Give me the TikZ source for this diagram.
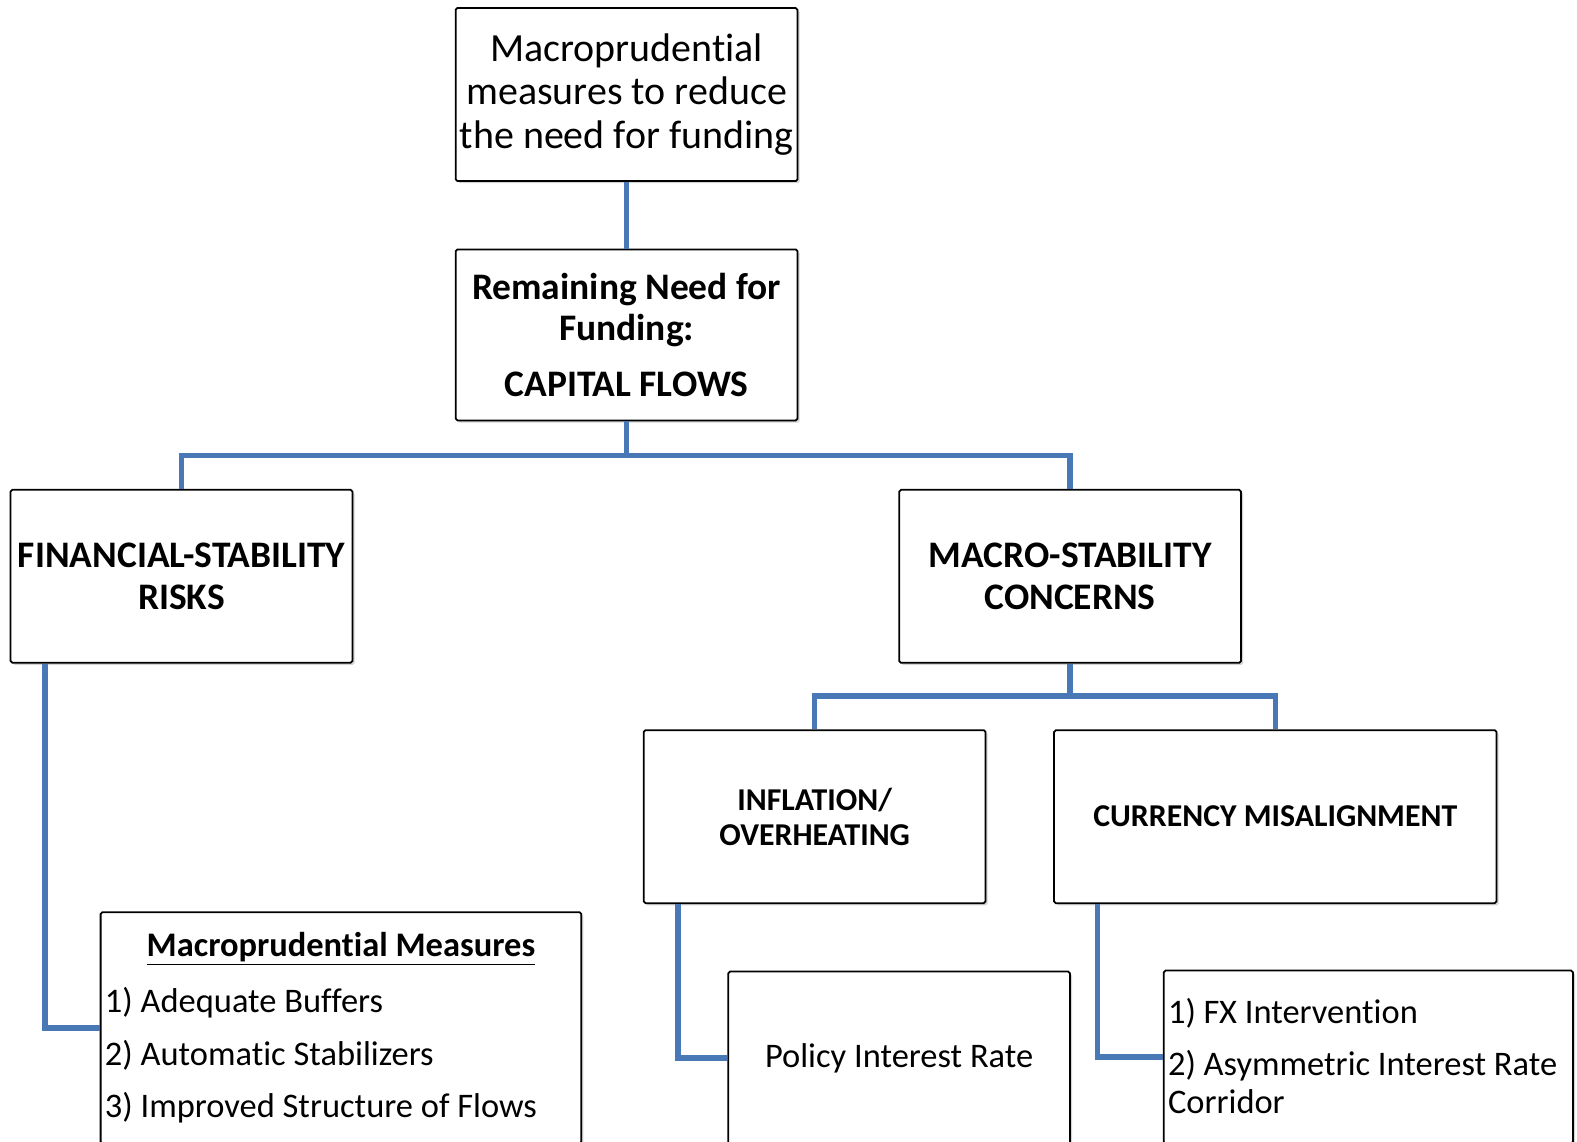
\documentclass[tikz,border=0pt]{standalone}
\usepackage{fontspec}
\setmainfont[Ligatures=NoCommon]{Carlito}
\usepackage{tikz}
\usetikzlibrary{shadows}
\definecolor{link}{HTML}{4878B6}
\tikzset{
  box/.style={draw=black, line width=1pt, fill=white, rounded corners=1pt,
    drop shadow={shadow xshift=1.2pt, shadow yshift=-1.2pt, opacity=0.35},
    minimum width=6.8cm, minimum height=3.44cm, inner sep=0pt, align=center},
  conn/.style={draw=link, line width=3.1pt},
  head/.style={font=\fontsize{21.2}{23.5}\selectfont\bfseries},
  sub/.style={font=\fontsize{18}{20}\selectfont\bfseries},
  txt/.style={font=\fontsize{19.5}{21.5}\selectfont, align=left, inner sep=0pt},
}

\begin{document}
\begin{tikzpicture}[x=0.02cm, y=-0.02cm]
  \useasboundingbox (0,0) rectangle (1568,1135);
  % boxes
  \node[box, font=\fontsize{22.6}{24.5}\selectfont] (top) at (623,94)
    {Macroprudential\\measures to reduce\\the need for funding};
  \node[box, head, minimum height=3.4cm] (remain) at (623,333)
    {Remaining Need for\\Funding:\\[8pt]CAPITAL FLOWS};
  \node[box, head] (fin) at (180.5,573) {FINANCIAL-STABILITY\\RISKS};
  \node[box, head] (macro) at (1064,573) {MACRO-STABILITY\\CONCERNS};
  \node[box, sub] (infl) at (810,812) {INFLATION/\\OVERHEATING};
  \node[box, sub, minimum width=8.8cm] (curr) at (1268,812) {CURRENCY MISALIGNMENT};
  \node[box, minimum width=9.56cm, minimum height=4.6cm] (meas) at (339,1022) {};
  \node[box, txt, minimum height=3.44cm, align=center] (policy) at (894,1052)
    {Policy Interest Rate};
  \node[box, minimum width=8.14cm, minimum height=3.44cm] (fx) at (1360.5,1051) {};
  % texts of the list boxes
  \node[txt, font=\fontsize{19.5}{21.5}\selectfont\bfseries] (meashd) at (339,943)
    {\underline{Macroprudential Measures}};
  \node[txt, anchor=west] (m1) at (104,997) {1) Adequate Buffers};
  \node[txt, anchor=west] (m2) at (104,1049) {2) Automatic Stabilizers};
  \node[txt, anchor=west] (m3) at (104,1101) {3) Improved Structure of Flows};
  \node[txt, anchor=west] (f1) at (1161,1007) {1) FX Intervention};
  \node[txt, anchor=north west] (f2) at (1161,1044) {2) Asymmetric Interest Rate\\Corridor};
  % connectors
  \coordinate (j1) at (623,453);
  \coordinate (j2) at (1064,692);
  \draw[conn] (top) -- (remain);
  \draw[conn] (remain.south) -- (j1);
  \draw[conn] (fin.north) |- (j1) -| (macro.north);
  \draw[conn] (macro.south) -- (j2);
  \draw[conn] (infl.north) |- (j2) -| (curr.north);
  \draw[conn] ([xshift=0.7cm]fin.south west) |- (meas.west);
  \draw[conn] ([xshift=0.7cm]infl.south west) |- (policy.west);
  \draw[conn] ([xshift=0.88cm]curr.south west) |- (fx.west);
\end{tikzpicture}
\end{document}
